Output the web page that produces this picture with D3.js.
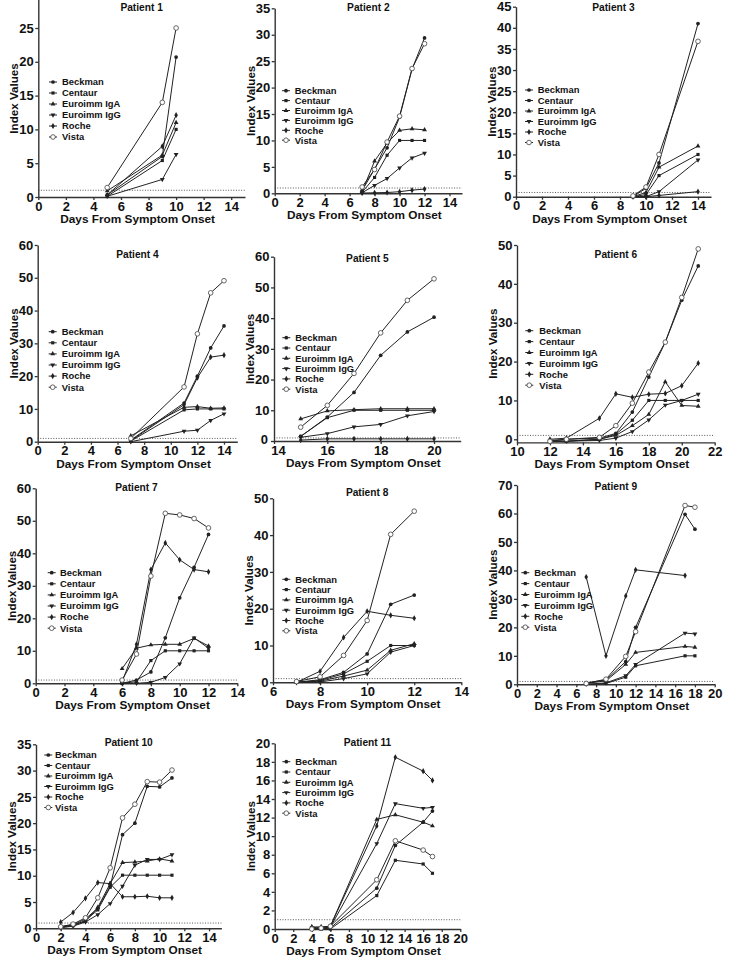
<!DOCTYPE html>
<html><head><meta charset="utf-8">
<script src="https://cdn.jsdelivr.net/npm/d3@7"></script>
<style>
body{margin:0;background:#fff}
svg{display:block}
text{font-family:"Liberation Sans",Arial,Helvetica,sans-serif;font-weight:bold;fill:#111}
</style>
</head><body>
<svg id="c" width="730" height="964"></svg>
<script>
const seriesNames = ["Beckman","Centaur","Euroimm IgA","Euroimm IgG","Roche","Vista"];

const p1 = {days:[5,9,10],
  Beckman:[0.3,6,20.7], Centaur:[0.1,5.4,10], "Euroimm IgA":[0.9,6.2,11], "Euroimm IgG":[0.1,2.6,6.3], Roche:[0.3,7.5,12.1], Vista:[1.4,14,25]};
const p2 = {days:[7,8,9,10,11,12],
  Beckman:[0.5,4.6,8.6,14.4,23.5,29.4], Centaur:[0.2,3.0,7.2,10,10,10], "Euroimm IgA":[0.3,6.1,9.5,11.9,12.2,12.0], "Euroimm IgG":[0.1,1.5,2.8,4.8,6.7,7.6], Roche:[0.05,0.1,0.15,0.3,0.6,0.8], Vista:[1.2,4.5,9.7,14.6,23.6,28.3]};
const p3 = {days:[9,10,11,14],
  Beckman:[0,2,8,41], Centaur:[0,0.5,5,10], "Euroimm IgA":[0,1,7,12], "Euroimm IgG":[0,0,1.2,8.7], Roche:[0,0,0.3,1.2], Vista:[0.2,2.3,10,36.8]};
const p4 = {days:[7,11,12,13,14],
  Beckman:[0.5,11.8,20,28.6,35.3], Centaur:[0.2,9.7,10,10,10], "Euroimm IgA":[1.8,10.5,10.7,10.2,10.3], "Euroimm IgG":[0,3.2,3.5,6.5,8.5], Roche:[0.3,11.3,19.5,25.8,26.4], Vista:[1.0,16.7,32.9,45.4,49.1]};
const p5 = {days:[15,16,17,18,19,20],
  Beckman:[1.5,7.8,15.8,27.9,35.5,40.3], Centaur:[1.5,7.6,10,10,10,10], "Euroimm IgA":[7.2,9.8,10.2,10.5,10.5,10.5], "Euroimm IgG":[1.2,2.4,4.6,5.4,8.2,9.6], Roche:[0.3,0.7,0.7,0.7,0.7,0.7], Vista:[4.5,11.6,22,35.2,45.8,52.8]};
const p6 = {days:[12,13,15,16,17,18,19,20,21],
  Beckman:[-0.3,0,0.3,1.5,7,16,25,35.8,44.6], Centaur:[-0.5,-0.5,0,1.3,4.9,10,10,10,10], "Euroimm IgA":[-0.5,-0.5,0,1,3.5,6.4,14.8,8.7,8.5], "Euroimm IgG":[-0.5,-0.5,-0.3,0.3,2,5,8.8,10,11.6], Roche:[0,0.3,5.4,11.7,10.8,11.6,11.8,13.8,19.6], Vista:[-0.5,0,0.5,3.5,9.3,17.3,25,36.5,49]};
const p7 = {days:[6,7,8,9,10,11,12],
  Beckman:[0,1,3.5,14,26.3,35.7,45.8], Centaur:[0,0.5,7,10,10,10,10], "Euroimm IgA":[4.5,10.8,11.8,12,12,13.8,11.5], "Euroimm IgG":[0,0,0.3,1.8,6,14,10.8], Roche:[0.5,12,35,43.2,38,35,34.3], Vista:[1,9,33,52.3,51.8,50.7,47.8]};
const p8 = {days:[7,8,9,10,11,12],
  Beckman:[0,0.7,2.7,7.7,21.2,23.7], Centaur:[0,0.5,2.3,5.7,10,10], "Euroimm IgA":[0,0.3,1.7,3.3,8.7,10.5], "Euroimm IgG":[0,0.1,1,2.3,8.2,10], Roche:[0,3,12.2,19.3,18.2,17.4], Vista:[0.2,1.5,7.3,16.8,40.2,46.5]};
const p9 = {days:[7,9,11,12,17,18],
  Beckman:[0.5,1.5,8,20,59.7,54.5], Centaur:[0,0.3,2.5,6.5,10,10], "Euroimm IgA":[0.3,1.2,7,11.2,13.3,13], "Euroimm IgG":[0,0.5,3,7,18,17.7], Roche:[37.7,10,31,40.2,38.2,null], Vista:[0.3,1.8,9.8,18.5,62.8,62.2]};
const p10 = {days:[2,3,4,5,6,7,8,9,10,11],
  Beckman:[0.3,0.6,1.8,3.8,8,17.8,20,27,26.9,28.6], Centaur:[0.2,0.5,1.5,3.5,7.8,10.1,10.1,10.1,10.1,10.1], "Euroimm IgA":[0.3,0.6,1.3,4,8.5,12.5,12.6,12.8,13.2,12.8], "Euroimm IgG":[0.1,0.4,1.2,2.6,4.7,8,12,13.1,13.1,14], Roche:[1.2,3,5.7,8.7,8.5,6,6,6.1,5.8,5.8], Vista:[0.3,0.8,2,5.8,11.5,21,23.6,27.9,27.8,30.1]};
const p11 = {days:[4,5,6,11,13,16,17],
  Beckman:[0,0,0.1,4.4,9,11.5,12.7], Centaur:[0,0,0,3.6,7.4,7,6], "Euroimm IgA":[0.2,0.2,0.3,11.8,12.3,11.5,11.1], "Euroimm IgG":[0.1,0.1,0.2,9.2,13.5,13,13.1], Roche:[0.2,0.2,0.3,11.1,18.5,17,16], Vista:[0,0.1,0.3,5.3,9.5,8.5,7.8]};

const titles = ["Patient 1","Patient 2","Patient 3","Patient 4","Patient 5","Patient 6","Patient 7","Patient 8","Patient 9","Patient 10","Patient 11"];
const xTicks0to14 = [0,2,4,6,8,10,12,14];
const xTicks14to20 = [14,16,18,20];
const xTicks10to22 = [10,12,14,16,18,20,22];
const xTicks6to14 = [6,8,10,12,14];
const xTicks0to20 = [0,2,4,6,8,10,12,14,16,18,20];
const yTicks25 = [0,5,10,15,20,25];
const yTicks35 = [0,5,10,15,20,25,30,35];
const yTicks45 = [0,5,10,15,20,25,30,35,40,45];
const yTicks60 = [0,10,20,30,40,50,60];
const yTicks50 = [0,10,20,30,40,50];
const yTicks70 = [0,10,20,30,40,50,60,70];
const yTicks20 = [0,2,4,6,8,10,12,14,16,18,20];
const cutoff = 1;
const xTitle = "Days From Symptom Onset";
const yTitle = "Index Values";

// layout (pixel geometry) kept separate from data
const panels = [
 {d:p1, xd:[0,15], xr:[38.3,245], xt:xTicks0to14, yd:[0,30], yr:[197,-5.8], yt:yTicks25, ty:7, leg:[53,62,82,11]},
 {d:p2, xd:[0,15], xr:[274.7,462], xt:xTicks0to14, yd:[0,35], yr:[193.3,8.3], yt:yTicks35, ty:7, leg:[286,294.7,90.7,9.9]},
 {d:p3, xd:[0,15], xr:[516,711], xt:xTicks0to14, yd:[0,45], yr:[196.7,6.7], yt:yTicks45, ty:7, leg:[529,537.7,90,10.5]},
 {d:p4, xd:[0,15], xr:[37.7,237.3], xt:xTicks0to14, yd:[0,60], yr:[441.7,245], yt:yTicks60, ty:254, leg:[52.7,61.7,331.7,11.1]},
 {d:p5, xd:[14,21], xr:[274,460.7], xt:xTicks14to20, yd:[0,60], yr:[441,256.7], yt:yTicks60, ty:258, leg:[286.3,295.3,337.7,10.3], nudge:true},
 {d:p6, xd:[10,22], xr:[517,714.7], xt:xTicks10to22, yd:[-0.8,50], yr:[442.4,245], yt:yTicks50, ty:254, leg:[529.3,539.3,330.7,10.9]},
 {d:p7, xd:[0,14], xr:[35.7,237.3], xt:xTicks0to14, yd:[0,60], yr:[683.3,488.3], yt:yTicks60, ty:487, leg:[51.7,60,572.7,11.1]},
 {d:p8, xd:[6,14], xr:[273,461.3], xt:xTicks6to14, yd:[0,50], yr:[682.3,498.3], yt:yTicks50, ty:492.7, leg:[286.3,295.3,579.3,10.3]},
 {d:p9, xd:[0,20], xr:[517,714.7], xt:xTicks0to20, yd:[0,70], yr:[684.3,485], yt:yTicks70, ty:486, leg:[525.3,534.3,572.7,10.9]},
 {d:p10, xd:[0,15], xr:[36,221.4], xt:xTicks0to14, yd:[0,35], yr:[928.3,744.3], yt:yTicks35, ty:742.3, leg:[48.3,55,755,10.5]},
 {d:p11, xd:[0,20], xr:[274.7,460.3], xt:xTicks0to20, yd:[0,20], yr:[929,743.3], yt:yTicks20, ty:742.3, leg:[286.3,295.3,761.7,10.3]}
];

const symbolOf = {
  "Beckman": {t:d3.symbolCircle, s:11, rot:0, open:false},
  "Centaur": {t:d3.symbolSquare, s:10, rot:0, open:false},
  "Euroimm IgA": {t:d3.symbolTriangle, s:10, rot:0, open:false},
  "Euroimm IgG": {t:d3.symbolTriangle, s:10, rot:180, open:false},
  "Roche": {t:d3.symbolDiamond, s:11, rot:0, open:false},
  "Vista": {t:d3.symbolCircle, s:17, rot:0, open:true}
};

const svg = d3.select("#c");
const fmt = d3.format("d");

function drawMarker(g, name, x, y){
  const sp = symbolOf[name];
  g.append("path")
    .attr("d", d3.symbol().type(sp.t).size(sp.s)())
    .attr("transform", `translate(${x},${y}) rotate(${sp.rot})`)
    .attr("fill", sp.open ? "#fff" : "#222")
    .attr("stroke", sp.open ? "#555" : "none")
    .attr("stroke-width", sp.open ? 0.9 : 0);
}

panels.forEach((P, i) => {
  const g = svg.append("g");
  const x = d3.scaleLinear().domain(P.xd).range(P.xr);
  const y = d3.scaleLinear().domain(P.yd).range(P.yr);

  // cutoff dotted line
  g.append("line")
    .attr("x1", P.xr[0]).attr("x2", P.xr[1])
    .attr("y1", y(cutoff)).attr("y2", y(cutoff))
    .attr("stroke", "#444").attr("stroke-width", 0.9)
    .attr("stroke-dasharray", "1,1.6");

  // axes
  const ax = g.append("g").attr("transform", `translate(0,${P.yr[0]})`)
    .call(d3.axisBottom(x).tickValues(P.xt).tickFormat(fmt).tickSize(3).tickSizeOuter(0).tickPadding(1.5));
  const ay = g.append("g").attr("transform", `translate(${P.xr[0]},0)`)
    .call(d3.axisLeft(y).tickValues(P.yt).tickFormat(fmt).tickSize(3).tickSizeOuter(0).tickPadding(1.5));
  [ax, ay].forEach(a => {
    a.select(".domain").attr("stroke", "#333").attr("stroke-width", 1.4);
    a.selectAll(".tick line").attr("stroke", "#333").attr("stroke-width", 1.3);
    a.selectAll(".tick text").attr("font-size", 13).attr("fill", "#111")
      .attr("font-family", "'Liberation Sans',Arial,sans-serif").attr("font-weight", "bold");
  });
  if (P.nudge) {
    // keep the corner labels (y "0" and first x label) from colliding
    ax.selectAll(".tick text").filter((d, k) => k === 0).attr("dx", 4);
    ay.selectAll(".tick text").filter((d, k) => k === 0).attr("dx", -1.5).attr("dy", "0.2em");
  }

  // axis titles
  g.append("text").attr("x", (P.xr[0]+P.xr[1])/2 - 4).attr("y", P.yr[0] + 26)
    .attr("text-anchor", "middle").attr("font-size", 11.8).text(xTitle);
  const yc = (Math.max(P.yr[1],0) + P.yr[0]) / 2;
  g.append("text").attr("transform", `translate(${P.xr[0]-20},${yc}) rotate(-90)`)
    .attr("text-anchor", "middle").attr("font-size", 11.6).text(yTitle);

  // panel title
  g.append("text").attr("x", (P.xr[0]+P.xr[1])/2).attr("y", P.ty + 3.6)
    .attr("text-anchor", "middle").attr("font-size", 10.2).text(titles[i]);

  // series
  const line = d3.line().defined(d => d[1] != null).x(d => x(d[0])).y(d => y(d[1]));
  seriesNames.forEach(name => {
    const pts = P.d.days.map((dd, k) => [dd, P.d[name][k]]);
    g.append("path").attr("d", line(pts)).attr("fill", "none")
      .attr("stroke", "#222").attr("stroke-width", 1);
  });
  seriesNames.forEach(name => {
    P.d.days.forEach((dd, k) => {
      const v = P.d[name][k];
      if (v != null) drawMarker(g, name, x(dd), y(v));
    });
  });

  // legend
  const [mx, tx, ly, dy] = P.leg;
  seriesNames.forEach((name, k) => {
    const yy = ly + k*dy;
    g.append("line").attr("x1", mx-4).attr("x2", mx+4).attr("y1", yy).attr("y2", yy)
      .attr("stroke", "#222").attr("stroke-width", 1);
    drawMarker(g, name, mx, yy);
    g.append("text").attr("x", tx).attr("y", yy + 3.3).attr("font-size", 9.4).text(name);
  });
});
</script>
</body></html>
